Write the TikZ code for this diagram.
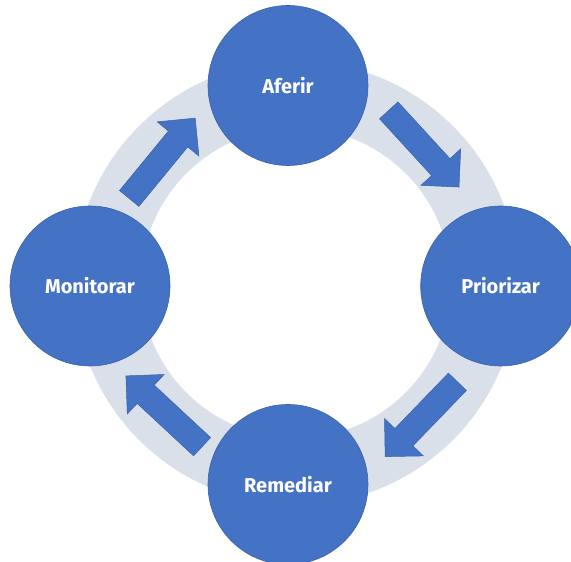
\documentclass[tikz,border=0pt]{standalone}
\usepackage{fontspec}
\setmainfont{Fira Sans}
\definecolor{stagefill}{HTML}{4472C4}
\definecolor{stageline}{HTML}{3A62A8}
\definecolor{ringfill}{HTML}{DAE0EA}
\tikzset{
  stage/.style={circle, fill=stagefill, draw=stageline, line width=0.6pt,
    minimum size=160pt, inner sep=0pt, text=white,
    font=\fontsize{20}{22}\selectfont\bfseries},
  arrowbody/.style={fill=stagefill, draw=stageline, line width=0.5pt, line join=miter},
  blockarrow/.pic={
    \filldraw[arrowbody] (-52,-12.5) -- (25,-12.5) -- (25,-27) -- (52,0)
      -- (25,27) -- (25,12.5) -- (-52,12.5) -- cycle;
  }
}
\begin{document}
\begin{tikzpicture}[x=1pt, y=1pt]
  \useasboundingbox (0,0) rectangle (571,562);
  % background ring
  \coordinate (hub) at (296,279);
  \fill[ringfill, even odd rule] (hub) circle (222) (hub) circle (155);
  % cycle arrows
  \pic[rotate=50.6]  at (162.2,403.7) {blockarrow};
  \pic[rotate=-47.5] at (423.9,413.3) {blockarrow};
  \pic[rotate=-134]  at (421.3,142.8) {blockarrow};
  \pic[rotate=137.1] at (164.0,150.7) {blockarrow};
  % stages
  \node[stage] (aferir)    at (288,476.5) {Aferir};
  \node[stage] (priorizar) at (500.7,276) {Priorizar};
  \node[stage] (remediar)  at (288,77.5)  {Remediar};
  \node[stage] (monitorar) at (90,276)    {Monitorar};
\end{tikzpicture}
\end{document}
